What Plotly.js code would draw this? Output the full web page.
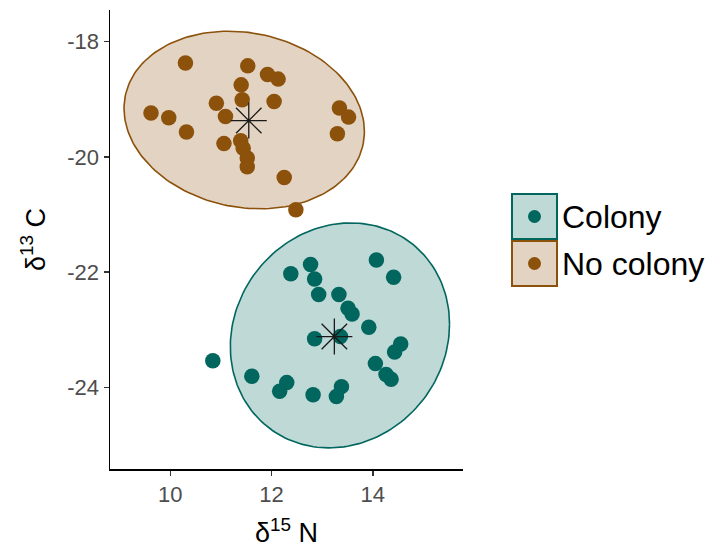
<!DOCTYPE html>
<html>
<head>
<meta charset="utf-8">
<script src="https://cdn.plot.ly/plotly-3.0.1.min.js"></script>
<style>html,body{margin:0;padding:0;background:#fff}#chart{width:708px;height:549px}</style>
</head>
<body>
<div id="chart"></div>
<script>
// ---- data ----
const groups = ['Colony', 'No colony'];

const colonyN = [12.38, 12.77, 12.85, 12.93, 13.33, 13.51, 13.59, 14.07, 14.41, 13.92, 12.85, 13.36,
                 14.55, 14.43, 14.05, 14.26, 14.36, 11.61, 12.30, 12.16, 12.82, 13.38, 13.28, 10.84];
const colonyC = [-22.03, -21.87, -22.12, -22.39, -22.39, -22.63, -22.73, -21.79, -22.09, -22.96, -23.16, -23.12,
                 -23.25, -23.39, -23.59, -23.78, -23.86, -23.81, -23.92, -24.07, -24.13, -23.99, -24.16, -23.54];

const noColonyN = [10.30, 11.53, 11.92, 12.13, 11.40, 11.42, 10.91, 12.05, 11.09, 9.62, 9.97, 10.32,
                   13.34, 13.52, 13.30, 11.06, 11.39, 11.44, 11.52, 11.52, 12.25, 12.48];
const noColonyC = [-18.37, -18.42, -18.57, -18.65, -18.75, -19.01, -19.07, -19.04, -19.30, -19.24, -19.32, -19.57,
                   -19.15, -19.31, -19.60, -19.77, -19.72, -19.85, -20.02, -20.17, -20.36, -20.92];

// group centroids (asterisks)
const centroidN = [13.24, 11.55];
const centroidC = [-23.12, -19.37];

// ellipse parameters: [centreN, centreC, halfWidthN, halfHeightC, phase]
const colonyEllipse = [13.35, -23.10, 2.164, 1.953, 0.10];
const noColonyEllipse = [11.46, -19.36, 2.373, 1.542, -0.13];

const xTicks = [10, 12, 14];
const yTicks = [-24, -22, -20, -18];

// ---- styles ----
const colTeal = '#01665e', colBrown = '#8c510a';
const fillTeal = 'rgba(1,102,94,0.25)', fillBrown = 'rgba(140,81,10,0.25)';
const FONT = 'Liberation Sans, Arial, sans-serif';

function ellipsePts(p) {
  const xs = [], ys = [];
  for (let i = 0; i <= 180; i++) {
    const t = 2 * Math.PI * i / 180;
    xs.push(p[0] + p[2] * Math.cos(t));
    ys.push(p[1] + p[3] * Math.sin(t + p[4]));
  }
  return {xs, ys};
}

const eC = ellipsePts(colonyEllipse), eN = ellipsePts(noColonyEllipse);

const traces = [
  {x: eN.xs, y: eN.ys, type: 'scatter', mode: 'lines', fill: 'toself', fillcolor: fillBrown,
   line: {color: colBrown, width: 1.6}, hoverinfo: 'skip'},
  {x: eC.xs, y: eC.ys, type: 'scatter', mode: 'lines', fill: 'toself', fillcolor: fillTeal,
   line: {color: colTeal, width: 1.6}, hoverinfo: 'skip'},
  {x: noColonyN, y: noColonyC, type: 'scatter', mode: 'markers', name: groups[1],
   marker: {color: colBrown, size: 15.5, line: {width: 0}}},
  {x: colonyN, y: colonyC, type: 'scatter', mode: 'markers', name: groups[0],
   marker: {color: colTeal, size: 15.5, line: {width: 0}}},
  {x: centroidN, y: centroidC, type: 'scatter', mode: 'markers',
   marker: {symbol: 'asterisk-open', size: 30, color: '#1a1a1a', line: {color: '#1a1a1a', width: 1.3}}}
];

// manual legend (pixel -> paper)
const L = 110, R = 245, T = 10, B = 80, PW = 708 - L - R, PH = 549 - T - B;
const px = v => (v - L) / PW, py = v => (549 - B - v) / PH;
const legCols = [colTeal, colBrown], legFills = [fillTeal, fillBrown];
const legTop = [194, 241];
const shapes = [], annotations = [];
groups.forEach((g, i) => {
  const y0 = legTop[i], y1 = legTop[i] + 45;
  shapes.push({type: 'rect', xref: 'paper', yref: 'paper', x0: px(512), x1: px(557), y0: py(y1), y1: py(y0),
               fillcolor: legFills[i], line: {color: legCols[i], width: 2}});
  const cx = 534.5, cy = (y0 + y1) / 2;
  shapes.push({type: 'circle', xref: 'paper', yref: 'paper', x0: px(cx - 6.5), x1: px(cx + 6.5),
               y0: py(cy + 6.5), y1: py(cy - 6.5), fillcolor: legCols[i], line: {width: 0}});
  annotations.push({xref: 'paper', yref: 'paper', x: px(560), y: py(cy), text: g, showarrow: false,
                    xanchor: 'left', yanchor: 'middle', font: {family: FONT, size: 32, color: '#000'}});
});

const layout = {
  width: 708, height: 549,
  margin: {l: L, r: R, t: T, b: B, pad: 0},
  paper_bgcolor: '#fff', plot_bgcolor: '#fff',
  showlegend: false,
  font: {family: FONT},
  xaxis: {range: [8.81, 15.78], tickvals: xTicks, ticktext: xTicks.map(String),
          showgrid: false, zeroline: false, showline: true, linecolor: '#000', linewidth: 1.5,
          ticks: 'outside', ticklen: 5, tickwidth: 1.3, tickcolor: '#333',
          tickfont: {family: FONT, size: 22, color: '#4d4d4d'},
          title: {text: 'δ<sup>15</sup> N', font: {family: FONT, size: 27, color: '#000'}, standoff: 17}},
  yaxis: {range: [-25.42, -17.45], tickvals: yTicks, ticktext: yTicks.map(String),
          showgrid: false, zeroline: false, showline: true, linecolor: '#000', linewidth: 1.5,
          ticks: 'outside', ticklen: 5, tickwidth: 1.3, tickcolor: '#333',
          tickfont: {family: FONT, size: 22, color: '#4d4d4d'},
          title: {text: 'δ<sup>13</sup> C', font: {family: FONT, size: 27, color: '#000'}, standoff: 14}},
  shapes, annotations
};

Plotly.newPlot('chart', traces, layout, {staticPlot: true, displayModeBar: false});
</script>
</body>
</html>
